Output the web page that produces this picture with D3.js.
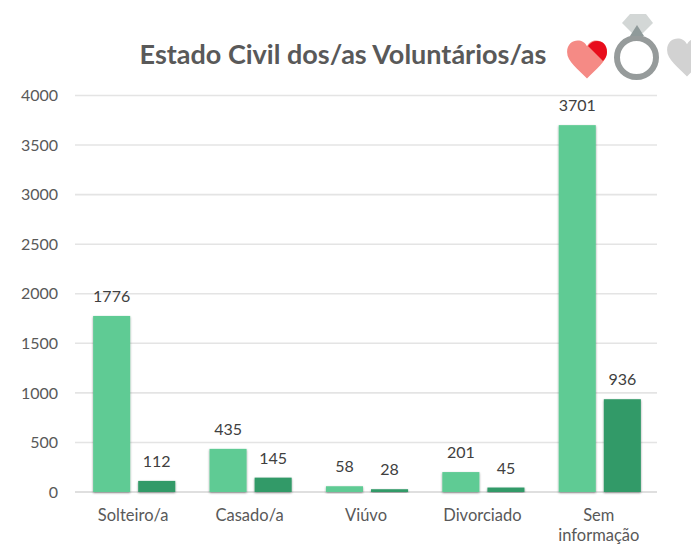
<!DOCTYPE html>
<html><head><meta charset="utf-8">
<script src="https://cdn.jsdelivr.net/npm/d3@7"></script>
<style>html,body{margin:0;padding:0;background:#fff}svg{display:block}text{font-family:Lato,"Open Sans",sans-serif}</style>
</head><body><div id="c"></div>
<script>
const categories=[["Solteiro/a"],["Casado/a"],["Viúvo"],["Divorciado"],["Sem","informação"]];
const seriesA=[1776,435,58,201,3701];
const seriesB=[112,145,28,45,936];
const ticks=[0,500,1000,1500,2000,2500,3000,3500,4000];
const title="Estado Civil dos/as Voluntários/as";
const colorA="#5fcb94",colorB="#319a68";

const svg=d3.select("#c").append("svg").attr("width",691).attr("height",545);
const defs=svg.append("defs");
const f=defs.append("filter").attr("id","sh").attr("x","-20%").attr("y","-20%").attr("width","140%").attr("height","140%");
f.append("feDropShadow").attr("dx",0).attr("dy",1).attr("stdDeviation",1.3).attr("flood-color","#000").attr("flood-opacity",.4);
const blur=defs.append("filter").attr("id","bl");
blur.append("feGaussianBlur").attr("stdDeviation",.6);

const names=categories.map(d=>d.join(" "));
const x=d3.scaleBand().domain(names).range([76,658]);
const inner=d3.scaleBand().domain([0,1]).range([0,x.bandwidth()]).paddingInner(.178).paddingOuter(.38);
const y=d3.scaleLinear().domain([0,4000]).range([492,95.5]);

const yAxis=d3.axisLeft(y).tickValues(ticks).tickFormat(d3.format("d")).tickSize(0).tickPadding(17);
const gy=svg.append("g").attr("transform","translate(75,0)").call(yAxis);
gy.select(".domain").remove();
gy.selectAll("text").attr("fill","#595959").attr("font-size",16);
svg.append("g").selectAll("line").data(ticks).join("line")
 .attr("x1",75).attr("x2",657).attr("y1",d=>y(d)).attr("y2",d=>y(d))
 .attr("stroke",d=>d===0?"#d4d4d4":"#e4e4e4").attr("stroke-width",1.6);

[[seriesA,colorA,0],[seriesB,colorB,1]].forEach(([vals,col,k])=>{
 const g=svg.append("g");
 g.selectAll("rect").data(vals).join("rect")
  .attr("x",(d,i)=>x(names[i])+inner(k)).attr("width",inner.bandwidth())
  .attr("y",d=>y(d)).attr("height",d=>y(0)-y(d)).attr("fill",col).attr("filter","url(#sh)");
 g.selectAll("text").data(vals).join("text")
  .attr("x",(d,i)=>x(names[i])+inner(k)+inner.bandwidth()/2).attr("y",d=>y(d)-14)
  .attr("text-anchor","middle").attr("font-size",16).attr("fill","#404040").text(d=>d);
});

const gx=svg.append("g");
categories.forEach((lines,i)=>{
 lines.forEach((t,j)=>{
  gx.append("text").attr("x",x(names[i])+x.bandwidth()/2-1).attr("y",521+j*20)
   .attr("text-anchor","middle").attr("font-size",16.5).attr("fill","#595959").text(t);
 });
});

svg.append("text").attr("x",343).attr("y",64).attr("text-anchor","middle")
 .attr("font-size",27).attr("font-weight",700).attr("fill","#595959").text(title);

// decorative icons
const ic=svg.append("g").attr("filter","url(#bl)");
const heart="M0,-13 C5,-24 24,-22 24,-6 C24,6 10,15 0,26 C-10,15 -24,6 -24,-6 C-24,-22 -5,-24 0,-13Z";
ic.append("path").attr("d",heart).attr("transform","translate(587,57) scale(.83)").attr("fill","#f58a85");
ic.append("path").attr("d","M588,46 C593,38 607,39 607,52 C607,55 606,58 603,61Z").attr("fill","#e8101c");
ic.append("path").attr("d",heart).attr("transform","translate(687,55) scale(.83)").attr("fill","#d2d2d2");
ic.append("circle").attr("cx",636.5).attr("cy",57.5).attr("r",19.5).attr("fill","none").attr("stroke","#969b9b").attr("stroke-width",6);
ic.append("path").attr("d","M622,23 L630,14 L646,14 L653,23 L643,33 L632,33Z").attr("fill","#d3d7d6");
ic.append("path").attr("d","M630,36 L637,25 L644,36Z").attr("fill","#8f9a9a");
</script></body></html>
